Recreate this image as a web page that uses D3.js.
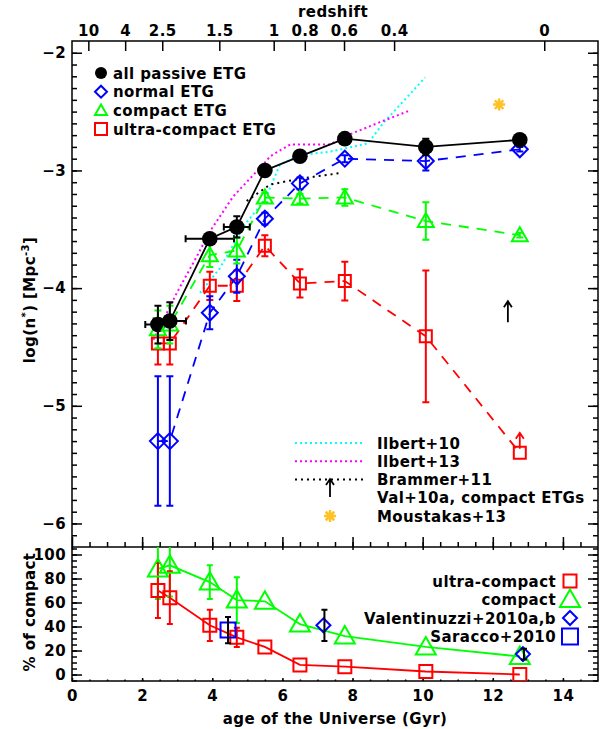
<!DOCTYPE html>
<html>
<head>
<meta charset="utf-8">
<script src="https://cdn.jsdelivr.net/npm/d3@7"></script>
<style>
  body { margin: 0; background: #fff; }
  text { font-family: "DejaVu Sans", sans-serif; font-weight: bold; letter-spacing: 0.4px; }
</style>
</head>
<body>
<div id="chart"></div>
<script>
// ---- data ----
const ages = [2.45, 2.79, 3.93, 4.70, 5.50, 6.50, 7.78, 10.09, 12.77];
const ageErr = [0.36, 0.46, 0.69, 0.37, 0, 0, 0, 0, 0];

const allPassive = [-4.31, -4.28, -3.58, -3.48, -3.00, -2.88, -2.73, -2.80, -2.74];
const allPassiveErr = [0.16, 0.16, 0.04, 0.09, 0.03, 0.03, 0.03, 0.07, 0.03];
const normalEtg = [-5.30, -5.30, -4.21, -3.90, -3.41, -3.11, -2.90, -2.92, -2.82];
const normalEtgErr = [0.55, 0.55, 0.14, 0.14, 0.05, 0.05, 0.03, 0.08, 0.02];
const compactEtg = [-4.35, -4.31, -3.72, -3.68, -3.23, -3.24, -3.23, -3.43, -3.55];
const compactEtgErr = [0.16, 0.16, 0.10, 0.11, 0.04, 0.04, 0.07, 0.16, 0.02];
const ultraEtg = [-4.47, -4.47, -3.98, -3.98, -3.64, -3.96, -3.94, -4.41, -5.40];
const ultraEtgErr = [0.18, 0.18, 0.12, 0.13, 0.09, 0.12, 0.165, 0.56, 0];

const ilbert10Age = [3.65, 4.22, 4.93, 5.50, 5.93, 6.50, 7.36, 8.44, 8.87, 9.27, 10.07];
const ilbert10Val = [-4.04, -3.83, -3.46, -3.25, -2.95, -2.87, -2.84, -2.77, -2.60, -2.47, -2.21];
const ilbert13Age = [2.32, 2.99, 3.56, 3.93, 4.60, 5.45, 5.65, 6.22, 7.36, 7.78, 8.78, 9.64];
const ilbert13Val = [-4.44, -4.04, -3.73, -3.52, -3.22, -2.95, -2.88, -2.78, -2.78, -2.71, -2.59, -2.49];
const brammerAge = [4.98, 5.65, 6.50, 7.70];
const brammerVal = [-3.26, -3.12, -3.07, -3.02];

const val10Age = 12.43, val10Val = -4.29;     // lower limit arrow
const moustakasAge = 12.18, moustakasVal = -2.44;

// bottom panel: percentage of compact galaxies
const compactPct = [88, 91, 77, 62, 61, 42, 32, 23, 15];
const compactPctErr = [25, 26, 14, 19, 0, 0, 0, 0, 0];
const ultraPct = [70, 64, 41, 31, 23, 8, 6.5, 2.5, 0];
const ultraPctErr = [23, 22, 13, 8, 0, 0, 0, 0, 0];
const valentinuzziAge = [7.17, 12.86];
const valentinuzziPct = [41, 17];
const valentinuzziErr = [13, 4.5];
const saraccoAge = [4.45];
const saraccoPct = [37];
const saraccoErr = [11];

const redshiftTicks = [10, 4, 2.5, 1.5, 1, 0.8, 0.6, 0.4, 0];
const redshiftLabels = ["10", "4", "2.5", "1.5", "1", "0.8", "0.6", "0.4", "0"];

// flat LCDM, H0=70, Om=0.3
function ageAt(z) {
  const om = 0.3, ol = 0.7, hubbleTime = 977.8 / 70;
  return 2 / 3 * hubbleTime / Math.sqrt(ol) * Math.asinh(Math.sqrt(ol / om) * Math.pow(1 + z, -1.5));
}

const W = 601, H = 729;
const svg = d3.select("#chart").append("svg").attr("width", W).attr("height", H);

const x = d3.scaleLinear([0, 15], [72, 598]);
const yTop = d3.scaleLinear([-6.2, -1.9], [547, 41]);
const yBot = d3.scaleLinear([-5.4, 106.25], [681, 547]);

const blue = "#0000ff", green = "#00ff00", red = "#ff0000";

svg.append("defs").append("clipPath").attr("id", "clipBot")
  .append("rect").attr("x", 72).attr("y", 547).attr("width", 526).attr("height", 134);
svg.append("defs").append("clipPath").attr("id", "clipTop")
  .append("rect").attr("x", 72).attr("y", 41).attr("width", 526).attr("height", 506);

// ---- axes ----
function styleAxis(g, fs) {
  g.select(".domain").remove();
  g.selectAll("line").attr("stroke", "#000").attr("stroke-width", 1.5);
  g.selectAll("text").attr("font-size", fs).attr("fill", "#000");
}
const minor = (a, b, s) => d3.range(a, b + s / 2, s);
const intFmt = d3.format("d");

// main panel
svg.append("g").attr("transform", "translate(72,0)")
  .call(d3.axisLeft(yTop).tickValues([-6, -5, -4, -3, -2]).tickSize(-10).tickPadding(6).tickFormat(intFmt))
  .call(g => styleAxis(g, 15));
svg.append("g").attr("transform", "translate(72,0)")
  .call(d3.axisLeft(yTop).tickValues(minor(-6.1, -2, 0.1)).tickSize(-5).tickFormat(""))
  .call(g => styleAxis(g, 15));
svg.append("g").attr("transform", "translate(598,0)")
  .call(d3.axisRight(yTop).tickValues([-6, -5, -4, -3, -2]).tickSize(-10).tickFormat(""))
  .call(g => styleAxis(g, 15));
svg.append("g").attr("transform", "translate(598,0)")
  .call(d3.axisRight(yTop).tickValues(minor(-6.1, -2, 0.1)).tickSize(-5).tickFormat(""))
  .call(g => styleAxis(g, 15));
svg.append("g").attr("transform", "translate(0,547)")
  .call(d3.axisBottom(x).tickValues(d3.range(0, 15, 2)).tickSize(-10).tickFormat(""))
  .call(g => styleAxis(g, 15));
svg.append("g").attr("transform", "translate(0,547)")
  .call(d3.axisBottom(x).tickValues(minor(0.5, 14.5, 0.5)).tickSize(-5).tickFormat(""))
  .call(g => styleAxis(g, 15));
svg.append("g").attr("transform", "translate(0,41)")
  .call(d3.axisTop(x).tickValues(redshiftTicks.map(ageAt)).tickSize(-10).tickPadding(5)
    .tickFormat((d, i) => redshiftLabels[i]))
  .call(g => styleAxis(g, 15));
svg.append("text").attr("x", 333).attr("y", 17).attr("text-anchor", "middle")
  .attr("font-size", 15).text("redshift");

// bottom panel
svg.append("g").attr("transform", "translate(72,0)")
  .call(d3.axisLeft(yBot).tickValues(d3.range(0, 101, 20)).tickSize(-10).tickPadding(6))
  .call(g => styleAxis(g, 15));
svg.append("g").attr("transform", "translate(72,0)")
  .call(d3.axisLeft(yBot).tickValues(minor(-5, 105, 5)).tickSize(-5).tickFormat(""))
  .call(g => styleAxis(g, 15));
svg.append("g").attr("transform", "translate(598,0)")
  .call(d3.axisRight(yBot).tickValues(d3.range(0, 101, 20)).tickSize(-10).tickFormat(""))
  .call(g => styleAxis(g, 15));
svg.append("g").attr("transform", "translate(598,0)")
  .call(d3.axisRight(yBot).tickValues(minor(-5, 105, 5)).tickSize(-5).tickFormat(""))
  .call(g => styleAxis(g, 15));
svg.append("g").attr("transform", "translate(0,681)")
  .call(d3.axisBottom(x).tickValues(d3.range(0, 15, 2)).tickSize(-3).tickPadding(9))
  .call(g => styleAxis(g, 15));
svg.append("g").attr("transform", "translate(0,681)")
  .call(d3.axisBottom(x).tickValues(minor(0.5, 14.5, 0.5)).tickSize(-1.5).tickFormat(""))
  .call(g => styleAxis(g, 15));
svg.append("g").attr("transform", "translate(0,547)")
  .call(d3.axisTop(x).tickValues(d3.range(0, 15, 2)).tickSize(-3).tickFormat(""))
  .call(g => styleAxis(g, 15));

svg.append("text").attr("x", 335).attr("y", 724).attr("text-anchor", "middle")
  .attr("font-size", 15).text("age of the Universe (Gyr)");

const yl = svg.append("text").attr("transform", "translate(35,300) rotate(-90)")
  .attr("text-anchor", "middle").attr("font-size", 15);
yl.append("tspan").text("log(n");
yl.append("tspan").attr("dy", -6).attr("font-size", 10).text("*");
yl.append("tspan").attr("dy", 6).text(")  [Mpc");
yl.append("tspan").attr("dy", -6).attr("font-size", 10).text("-3");
yl.append("tspan").attr("dy", 6).text("]");
svg.append("text").attr("transform", "translate(35,612) rotate(-90)")
  .attr("text-anchor", "middle").attr("font-size", 15).text("% of compact");

// boxes
svg.append("rect").attr("x", 72).attr("y", 41).attr("width", 526).attr("height", 640)
  .attr("fill", "none").attr("stroke", "#000").attr("stroke-width", 1.5);
svg.append("line").attr("x1", 72).attr("x2", 598).attr("y1", 547).attr("y2", 547)
  .attr("stroke", "#000").attr("stroke-width", 1.5);

// ---- helpers ----
function marker(g, type, cx, cy, s, color) {
  if (type === "circle") {
    g.append("circle").attr("cx", cx).attr("cy", cy).attr("r", s).attr("fill", color);
    return;
  }
  let p;
  if (type === "square") p = `M${cx - s},${cy - s}H${cx + s}V${cy + s}H${cx - s}Z`;
  if (type === "diamond") p = `M${cx},${cy - s}L${cx + s},${cy}L${cx},${cy + s}L${cx - s},${cy}Z`;
  if (type === "triangle") p = `M${cx - s},${cy + s * 0.75}L${cx + s},${cy + s * 0.75}L${cx},${cy - s}Z`;
  g.append("path").attr("d", p).attr("fill", "none").attr("stroke", color).attr("stroke-width", 2);
}
function vErr(g, px, y0, y1, color, cap) {
  g.append("path").attr("d", `M${px},${y0}V${y1}M${px - cap},${y0}H${px + cap}M${px - cap},${y1}H${px + cap}`)
    .attr("stroke", color).attr("stroke-width", 2).attr("fill", "none");
}
function arrowUp(g, px, yBase, yTip, color) {
  g.append("path").attr("d", `M${px},${yBase}V${yTip}M${px - 4},${yTip + 6}L${px},${yTip}L${px + 4},${yTip + 6}`)
    .attr("stroke", color).attr("stroke-width", 1.8).attr("fill", "none");
}
function asterisk(g, cx, cy, r, color) {
  let p = "";
  for (let k = 0; k < 4; k++) {
    const a = k * Math.PI / 4;
    p += `M${cx - r * Math.cos(a)},${cy - r * Math.sin(a)}L${cx + r * Math.cos(a)},${cy + r * Math.sin(a)}`;
  }
  g.append("path").attr("d", p).attr("stroke", color).attr("stroke-width", 2.5);
}

// ---- main panel ----
const gTop = svg.append("g").attr("clip-path", "url(#clipTop)");
function series(vals, dash, color, width) {
  gTop.append("path").datum(ages.map((a, i) => [a, vals[i]]))
    .attr("d", d3.line().x(d => x(d[0])).y(d => yTop(d[1])))
    .attr("fill", "none").attr("stroke", color).attr("stroke-width", width)
    .attr("stroke-dasharray", dash);
}
function curve(ax, vals, color, dash) {
  gTop.append("path").datum(ax.map((a, i) => [a, vals[i]]))
    .attr("d", d3.line().x(d => x(d[0])).y(d => yTop(d[1])))
    .attr("fill", "none").attr("stroke", color).attr("stroke-width", 2)
    .attr("stroke-dasharray", dash);
}
curve(ilbert10Age, ilbert10Val, "#00ffff", "2,3");
curve(ilbert13Age, ilbert13Val, "#ff00ff", "2,3");
curve(brammerAge, brammerVal, "#000", "2,4");

series(ultraEtg, "10,8", red, 1.8);
series(compactEtg, "10,8", green, 1.8);
series(normalEtg, "10,8", blue, 1.8);
series(allPassive, null, "#000", 1.8);

ages.forEach((a, i) => {
  const px = x(a);
  if (ultraEtgErr[i] > 0) vErr(gTop, px, yTop(ultraEtg[i] - ultraEtgErr[i]), yTop(ultraEtg[i] + ultraEtgErr[i]), red, 3.5);
  marker(gTop, "square", px, yTop(ultraEtg[i]), 6, red);
  vErr(gTop, px, yTop(normalEtg[i] - normalEtgErr[i]), yTop(normalEtg[i] + normalEtgErr[i]), blue, 3.5);
  marker(gTop, "diamond", px, yTop(normalEtg[i]), 8, blue);
  vErr(gTop, px, yTop(compactEtg[i] - compactEtgErr[i]), yTop(compactEtg[i] + compactEtgErr[i]), green, 3.5);
  marker(gTop, "triangle", px, yTop(compactEtg[i]), 8, green);
  const yb = yTop(allPassive[i]);
  vErr(gTop, px, yTop(allPassive[i] - allPassiveErr[i]), yTop(allPassive[i] + allPassiveErr[i]), "#000", 3.5);
  if (ageErr[i] > 0) {
    gTop.append("path").attr("d", `M${x(a - ageErr[i])},${yb}H${x(a + ageErr[i])}M${x(a - ageErr[i])},${yb - 3.5}V${yb + 3.5}M${x(a + ageErr[i])},${yb - 3.5}V${yb + 3.5}`)
      .attr("stroke", "#000").attr("stroke-width", 2);
  }
  marker(gTop, "circle", px, yb, 7.8, "#000");
});
// lower limit on the last ultra-compact point
arrowUp(gTop, x(ages[8]), yTop(ultraEtg[8]) - 4, yTop(ultraEtg[8]) - 20, red);
arrowUp(gTop, x(val10Age), yTop(val10Val), yTop(val10Val) - 21, "#000");
asterisk(gTop, x(moustakasAge), yTop(moustakasVal), 6, "#ffc125");

// main legend (top-left)
const legTop = [
  ["circle", "#000", "all passive ETG"],
  ["diamond", blue, "normal ETG"],
  ["triangle", green, "compact ETG"],
  ["square", red, "ultra-compact ETG"]
];
legTop.forEach((d, i) => {
  const cy = 73 + i * 18.7;
  marker(svg, d[0], 101, cy, 6, d[1]);
  svg.append("text").attr("x", 113).attr("y", cy + 5.5).attr("font-size", 15).text(d[2]);
});

// main legend (bottom-right)
const legRef = ["Ilbert+10", "Ilbert+13", "Brammer+11", "Val+10a, compact ETGs", "Moustakas+13"];
legRef.forEach((t, i) => {
  const cy = 443 + i * 18.3;
  svg.append("text").attr("x", 377).attr("y", cy + 5.5).attr("font-size", 15).text(t);
});
[["#00ffff", "2,3"], ["#ff00ff", "2,3"], ["#000", "2,4"]].forEach((d, i) => {
  const cy = 443 + i * 18.3;
  svg.append("line").attr("x1", 295).attr("x2", 365).attr("y1", cy).attr("y2", cy)
    .attr("stroke", d[0]).attr("stroke-width", 2).attr("stroke-dasharray", d[1]);
});
arrowUp(svg, 330, 497, 479, "#000");
asterisk(svg, 330, 516, 6, "#ffc125");

// ---- bottom panel ----
const gBot = svg.append("g").attr("clip-path", "url(#clipBot)");
[[ultraPct, red], [compactPct, green]].forEach(([vals, c]) => {
  gBot.append("path").datum(ages.map((a, i) => [a, vals[i]]))
    .attr("d", d3.line().x(d => x(d[0])).y(d => yBot(d[1])))
    .attr("fill", "none").attr("stroke", c).attr("stroke-width", 1.8);
});
ages.forEach((a, i) => {
  const px = x(a);
  if (compactPctErr[i] > 0) vErr(gBot, px, yBot(compactPct[i] - compactPctErr[i]), yBot(compactPct[i] + compactPctErr[i]), green, 3);
  if (ultraPctErr[i] > 0) vErr(gBot, px, yBot(ultraPct[i] - ultraPctErr[i]), yBot(ultraPct[i] + ultraPctErr[i]), red, 3);
  marker(gBot, "triangle", px, yBot(compactPct[i]), 10, green);
  marker(gBot, "square", px, yBot(ultraPct[i]), 6.5, red);
});
valentinuzziAge.forEach((a, i) => {
  marker(gBot, "diamond", x(a), yBot(valentinuzziPct[i]), 7, blue);
  vErr(gBot, x(a) + 1, yBot(valentinuzziPct[i] - valentinuzziErr[i]), yBot(valentinuzziPct[i] + valentinuzziErr[i]), "#000", 3);
});
saraccoAge.forEach((a, i) => {
  marker(gBot, "square", x(a), yBot(saraccoPct[i]), 7.5, blue);
  vErr(gBot, x(a), yBot(saraccoPct[i] - saraccoErr[i]), yBot(saraccoPct[i] + saraccoErr[i]), "#000", 3);
});

const legBot = [
  ["square", red, "ultra-compact", 6.5],
  ["triangle", green, "compact", 10],
  ["diamond", blue, "Valentinuzzi+2010a,b", 7],
  ["square", blue, "Saracco+2010", 8]
];
legBot.forEach((d, i) => {
  const cy = 581 + i * 18.5;
  marker(svg, d[0], 570, cy, d[3], d[1]);
  svg.append("text").attr("x", 556).attr("y", cy + 5.5).attr("text-anchor", "end")
    .attr("font-size", 15).text(d[2]);
});
</script>
</body>
</html>
